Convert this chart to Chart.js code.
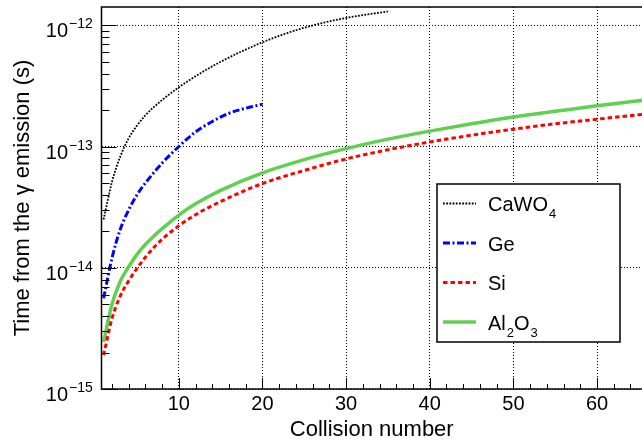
<!DOCTYPE html>
<html>
<head>
<meta charset="utf-8">
<script src="https://cdn.jsdelivr.net/npm/chart.js@4.4.0/dist/chart.umd.min.js"></script>
<style>
  html, body { margin: 0; padding: 0; background: #fff; }
</style>
</head>
<body>
<canvas id="myChart" width="642" height="443"></canvas>
<script>
// values (time in seconds vs collision number)
const collisionsCaWO4 = [1, 2, 3, 4, 5, 6, 8, 10, 12, 15, 20, 25, 30, 35];
const timeCaWO4 = [2.5e-14, 5.1e-14, 8.28e-14, 1.17e-13, 1.49e-13, 1.81e-13, 2.42e-13, 3.08e-13, 3.8e-13, 5.0e-13, 7.24e-13, 9.55e-13, 1.15e-12, 1.3e-12];

const collisionsGe = [1, 2, 3, 4, 5, 6, 8, 10, 12, 14, 16, 18, 20];
const timeGe = [5.6e-15, 1.2e-14, 2.08e-14, 3.0e-14, 4.0e-14, 5.0e-14, 7.3e-14, 1.0e-13, 1.32e-13, 1.61e-13, 1.88e-13, 2.07e-13, 2.23e-13];

const collisionsSi = [1, 2, 3, 4, 5, 6, 7, 8, 10, 12, 15, 20, 25, 30, 35, 40, 45, 50, 55, 60, 66];
const timeSi = [1.9e-15, 3.8e-15, 5.87e-15, 7.8e-15, 9.9e-15, 1.22e-14, 1.47e-14, 1.72e-14, 2.22e-14, 2.74e-14, 3.52e-14, 4.95e-14, 6.35e-14, 7.9e-14, 9.4e-14, 1.09e-13, 1.24e-13, 1.39e-13, 1.54e-13, 1.68e-13, 1.86e-13];

const collisionsAl2O3 = [1, 2, 3, 4, 5, 6, 7, 8, 10, 12, 15, 20, 25, 30, 35, 40, 45, 50, 55, 60, 66];
const timeAl2O3 = [2.45e-15, 5.0e-15, 7.74e-15, 1.02e-14, 1.29e-14, 1.56e-14, 1.82e-14, 2.1e-14, 2.72e-14, 3.37e-14, 4.35e-14, 6.07e-14, 7.8e-14, 9.6e-14, 1.15e-13, 1.34e-13, 1.54e-13, 1.75e-13, 1.95e-13, 2.17e-13, 2.43e-13];

// axis ticks
const xTicks = [2, 4, 6, 8, 10, 12, 14, 16, 18, 20, 22, 24, 26, 28, 30, 32, 34, 36, 38, 40, 42, 44, 46, 48, 50, 52, 54, 56, 58, 60, 62, 64];
const xLabelTicks = [10, 20, 30, 40, 50, 60];
const yDecades = [1e-15, 1e-14, 1e-13, 1e-12];
const yMinorSteps = [2, 3, 4, 5, 6, 7, 8, 9];

const X_MIN = 0.75, X_MAX = 65.38;
const Y_MIN = 1e-15, Y_MAX = 1.415e-12;
const FONT = '"Liberation Sans", Arial, Helvetica, sans-serif';

const yTicks = [];
yDecades.forEach(d => {
  yTicks.push(d);
  yMinorSteps.forEach(m => { if (d * m <= Y_MAX) yTicks.push(d * m); });
});

const toPoints = (xs, ys) => xs.map((x, i) => ({x: x, y: ys[i]}));
const isDecade = v => yDecades.some(d => Math.abs(v / d - 1) < 1e-6);

// ROOT style inside tick marks, frame and 10^n labels
const frame = {
  id: 'frame',
  afterDraw(chart) {
    const {ctx, chartArea: a, scales: {x, y}} = chart;
    ctx.save();
    ctx.strokeStyle = '#000';
    ctx.lineWidth = 1;
    yTicks.forEach(v => {
      const py = Math.round(y.getPixelForValue(v)) + 0.5;
      const len = isDecade(v) ? 15 : 8;
      ctx.beginPath();
      ctx.moveTo(a.left, py);
      ctx.lineTo(a.left + len, py);
      ctx.stroke();
    });
    xTicks.forEach(v => {
      const px = Math.round(x.getPixelForValue(v)) + 0.5;
      const len = v % 10 === 0 ? 11 : 5;
      ctx.beginPath();
      ctx.moveTo(px, a.bottom);
      ctx.lineTo(px, a.bottom - len);
      ctx.stroke();
    });

    ctx.lineWidth = 1.5;
    ctx.beginPath();
    ctx.moveTo(a.right + 5, a.top);
    ctx.lineTo(a.left, a.top);
    ctx.lineTo(a.left, a.bottom);
    ctx.lineTo(a.right + 5, a.bottom);
    ctx.stroke();

    ctx.fillStyle = '#000';
    ctx.textBaseline = 'alphabetic';
    yDecades.forEach(v => {
      const py = y.getPixelForValue(v);
      const exp = Math.round(Math.log10(v));
      ctx.font = '20px ' + FONT;
      ctx.textAlign = 'right';
      ctx.fillText('10', 68, py + 12);
      ctx.font = '14px ' + FONT;
      ctx.textAlign = 'left';
      ctx.fillText('\u2212' + Math.abs(exp), 69, py + 3);
    });
    ctx.restore();
  }
};

// draws "CaWO₄" style text with real subscripts
function drawLabel(ctx, text, x, base) {
  for (const ch of text) {
    const code = ch.charCodeAt(0);
    if (code >= 0x2080 && code <= 0x2089) {
      ctx.font = '13px ' + FONT;
      const d = String(code - 0x2080);
      ctx.fillText(d, x + 1, base + 7);
      x += ctx.measureText(d).width + 1;
    } else {
      ctx.font = '20px ' + FONT;
      ctx.fillText(ch, x, base);
      x += ctx.measureText(ch).width;
    }
  }
}

const boxLegend = {
  id: 'boxLegend',
  afterDatasetsDraw(chart) {
    const ctx = chart.ctx;
    const l = 437, t = 184, r = 620, b = 342;
    ctx.save();
    ctx.fillStyle = '#fff';
    ctx.fillRect(l, t, r - l, b - t);
    ctx.lineWidth = 1.5;
    ctx.strokeStyle = '#000';
    ctx.strokeRect(l, t, r - l, b - t);
    chart.data.datasets.forEach((ds, i) => {
      const cy = 203.5 + i * 39.5;
      ctx.setLineDash(ds.borderDash || []);
      ctx.lineWidth = ds.borderWidth;
      ctx.strokeStyle = ds.borderColor;
      ctx.beginPath();
      ctx.moveTo(443, cy);
      ctx.lineTo(476, cy);
      ctx.stroke();
      ctx.setLineDash([]);
      ctx.fillStyle = '#000';
      ctx.textAlign = 'left';
      ctx.textBaseline = 'alphabetic';
      drawLabel(ctx, ds.label, 488, cy + 7.5);
    });
    ctx.restore();
  }
};

const chart1 = new Chart('myChart', {
  type: 'line',
  data: {
    datasets: [{
      label: 'CaWO\u2084',
      data: toPoints(collisionsCaWO4, timeCaWO4),
      borderColor: '#000000',
      borderWidth: 1.8,
      borderDash: [1.8, 1.4]
    }, {
      label: 'Ge',
      data: toPoints(collisionsGe, timeGe),
      borderColor: '#0000ff',
      borderWidth: 3,
      borderDash: [7, 2.5, 2, 2.5]
    }, {
      label: 'Si',
      data: toPoints(collisionsSi, timeSi),
      borderColor: '#ff0000',
      borderWidth: 3,
      borderDash: [4.5, 3]
    }, {
      label: 'Al\u2082O\u2083',
      data: toPoints(collisionsAl2O3, timeAl2O3),
      borderColor: '#5fd04f',
      borderWidth: 3.5,
      borderDash: []
    }]
  },
  options: {
    responsive: false,
    animation: false,
    devicePixelRatio: 1,
    layout: { padding: { top: 7, right: 0, bottom: 0, left: 0 } },
    elements: {
      point: { radius: 0 },
      line: { fill: false, cubicInterpolationMode: 'monotone' }
    },
    plugins: {
      legend: { display: false },
      tooltip: { enabled: false }
    },
    scales: {
      x: {
        type: 'linear',
        min: X_MIN,
        max: X_MAX,
        afterBuildTicks: s => { s.ticks = xTicks.map(v => ({value: v})); },
        afterFit: s => { s.height = 54; },
        ticks: {
          autoSkip: false,
          maxRotation: 0,
          padding: 3,
          color: '#000',
          font: { family: FONT, size: 20 },
          callback: v => xLabelTicks.includes(v) ? String(v) : ''
        },
        grid: {
          drawTicks: false,
          lineWidth: 1,
          color: c => (c.tick && xLabelTicks.includes(c.tick.value)) ? '#000' : 'rgba(0,0,0,0)'
        },
        border: { display: false, dash: [1, 2] },
        title: {
          display: true,
          text: 'Collision number',
          color: '#000',
          font: { family: FONT, size: 22 },
          padding: { top: 0, bottom: 0 }
        }
      },
      y: {
        type: 'logarithmic',
        min: Y_MIN,
        max: Y_MAX,
        afterBuildTicks: s => { s.ticks = yTicks.map(v => ({value: v})); },
        afterFit: s => { s.width = 101.5; },
        ticks: { display: false },
        grid: {
          drawTicks: false,
          lineWidth: 1,
          color: c => (c.tick && isDecade(c.tick.value)) ? '#000' : 'rgba(0,0,0,0)'
        },
        border: { display: false, dash: [1, 2] },
        title: {
          display: true,
          text: 'Time from the \u03b3 emission (s)',
          color: '#000',
          font: { family: FONT, size: 22 },
          padding: { top: 10, bottom: 0 }
        }
      }
    }
  },
  plugins: [boxLegend, frame]
});
</script>
</body>
</html>
